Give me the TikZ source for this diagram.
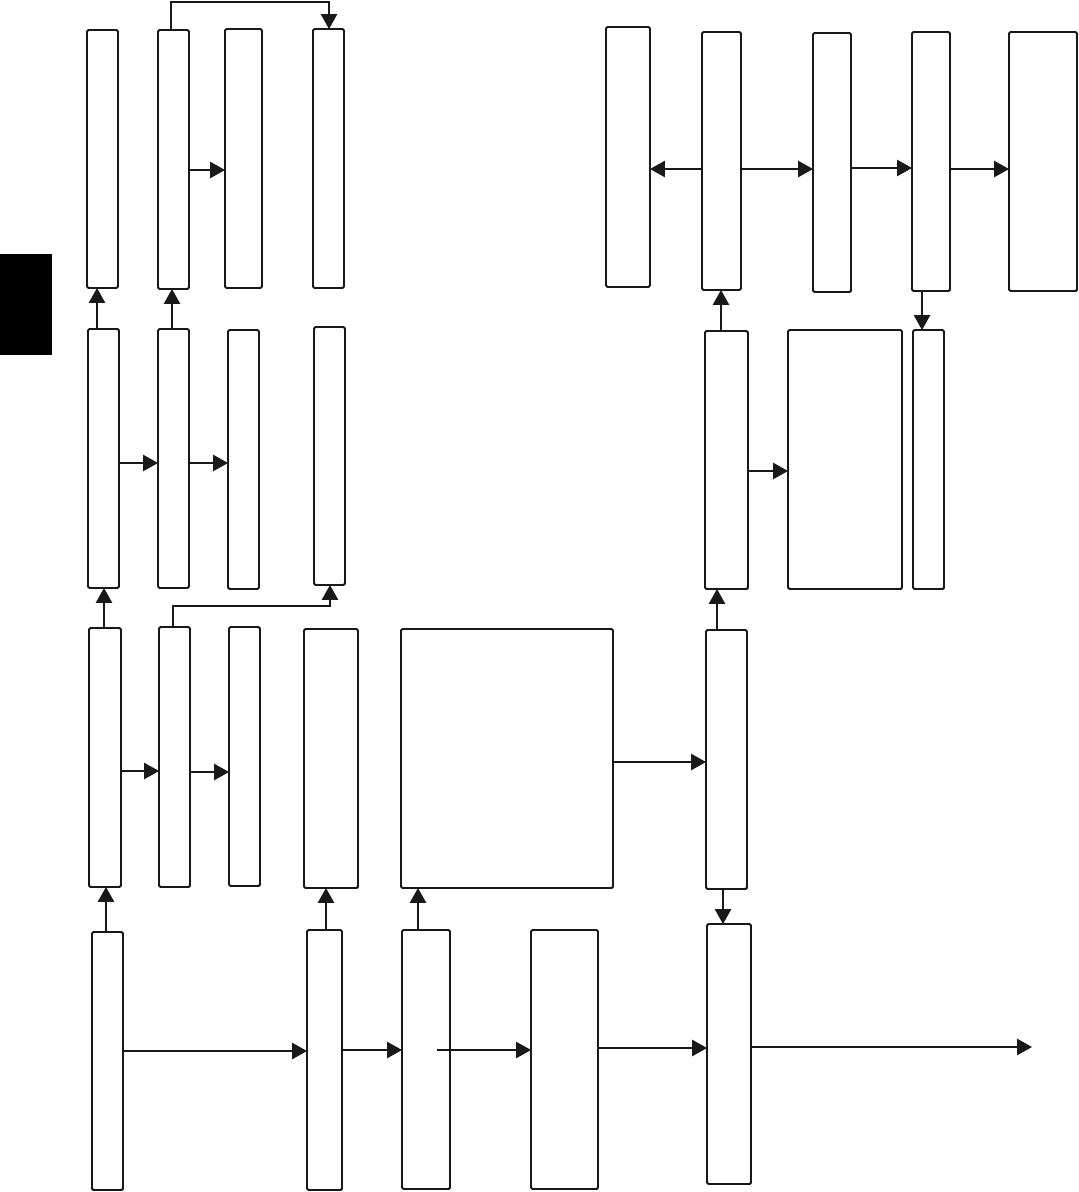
\documentclass[tikz,border=0pt]{standalone}
\usetikzlibrary{arrows.meta}
\tikzset{
  box/.style={draw=black!90,line width=1.4pt,rounded corners=1pt,inner sep=0pt,outer sep=0pt,fill=white},
  arr/.style={draw=black!90,line width=1.1pt,-{Triangle[length=10.5pt,width=11.5pt]}},
  ln/.style={draw=black!90,line width=1pt}
}
\newcommand\bx[5]{\node[box,minimum width={(#4-#2)*0.025cm},minimum height={(#5-#3)*0.025cm}] (#1) at ({(#2+#4)/2},{(#3+#5)/2}) {};}
\newcommand\hc[1]{\coordinate (y#1) at (0,#1);}
\newcommand\vc[1]{\coordinate (x#1) at (#1,0);}
\begin{document}
\begin{tikzpicture}[x=0.025cm,y=-0.025cm]
\useasboundingbox (0,0) rectangle (1079,1192);
\fill[black] (0,254) rectangle (52,355);
% boxes
\bx{A1}{87}{30}{118}{288}
\bx{A2}{158}{30}{189}{289}
\bx{A3}{225}{29}{262}{288}
\bx{A4}{313}{29}{344}{288}
\bx{B1}{88}{329}{119}{588}
\bx{B2}{158}{329}{189}{588}
\bx{B3}{228}{330}{259}{589}
\bx{B4}{314}{327}{345}{585}
\bx{C1}{89}{628}{121}{887}
\bx{C2}{159}{627}{190}{887}
\bx{C3}{229}{627}{260}{886}
\bx{C4}{304}{629}{358}{888}
\bx{C5}{401}{629}{613}{888}
\bx{C6}{706}{630}{747}{889}
\bx{D1}{92}{932}{123}{1190}
\bx{D2}{307}{930}{342}{1190}
\bx{D3}{402}{930}{450}{1189}
\bx{D4}{531}{930}{598}{1189}
\bx{D5}{707}{924}{751}{1184}
\bx{E1}{705}{331}{748}{589}
\bx{E2}{788}{330}{902}{589}
\bx{E3}{913}{330}{944}{589}
\bx{F1}{606}{27}{650}{287}
\bx{F2}{702}{32}{741}{290}
\bx{F3}{813}{33}{851}{292}
\bx{F4}{912}{32}{950}{291}
\bx{F5}{1009}{32}{1077}{291}
% helper coordinates
\vc{97}\vc{104}\vc{106}\vc{171}\vc{172}\vc{173}\vc{326}\vc{329}\vc{330}\vc{418}
\vc{717}\vc{721}\vc{723}\vc{922}
\hc{2}\hc{170}\hc{463}\hc{471}\hc{606}\hc{762}\hc{771}\hc{772}
\hc{1048}\hc{1050}\hc{1051}\hc{169}\hc{168}
\coordinate (d3in) at (437,1050);
\coordinate (out) at (1032,1047);
% top-left connectors
\draw[arr] (A2.north -| x171) -- (x171 |- y2) -- (x329 |- y2) -- (A4.north -| x329);
\draw[arr] (A2.east |- y170) -- (A3.west |- y170);
\draw[arr] (B1.north -| x97) -- (A1.south -| x97);
\draw[arr] (B2.north -| x172) -- (A2.south -| x172);
\draw[arr] (B1.east |- y463) -- (B2.west |- y463);
\draw[arr] (B2.east |- y463) -- (B3.west |- y463);
\draw[arr] (C1.north -| x104) -- (B1.south -| x104);
\draw[arr] (C2.north -| x173) -- (x173 |- y606) -- (x330 |- y606) -- (B4.south -| x330);
\draw[arr] (C1.east |- y771) -- (C2.west |- y771);
\draw[arr] (C2.east |- y772) -- (C3.west |- y772);
\draw[arr] (C5.east |- y762) -- (C6.west |- y762);
% bottom row
\draw[arr] (D1.north -| x106) -- (C1.south -| x106);
\draw[arr] (D2.north -| x326) -- (C4.south -| x326);
\draw[arr] (D3.north -| x418) -- (C5.south -| x418);
\draw[arr] (D1.east |- y1051) -- (D2.west |- y1051);
\draw[arr] (D2.east |- y1050) -- (D3.west |- y1050);
\draw[arr] (d3in) -- (D4.west |- d3in);
\draw[arr] (D4.east |- y1048) -- (D5.west |- y1048);
\draw[arr] (D5.east |- out) -- (out);
\draw[arr] (C6.south -| x723) -- (D5.north -| x723);
\draw[arr] (C6.north -| x717) -- (E1.south -| x717);
% right side
\draw[arr] (E1.east |- y471) -- (E2.west |- y471);
\draw[arr] (E1.north -| x721) -- (F2.south -| x721);
\draw[arr] (F4.south -| x922) -- (E3.north -| x922);
\draw[arr] (F2.west |- y169) -- (F1.east |- y169);
\draw[arr] (F2.east |- y169) -- (F3.west |- y169);
\draw[arr] (F3.east |- y168) -- (F4.west |- y168);
\draw[arr] (F4.east |- y169) -- (F5.west |- y169);
\end{tikzpicture}
\end{document}
